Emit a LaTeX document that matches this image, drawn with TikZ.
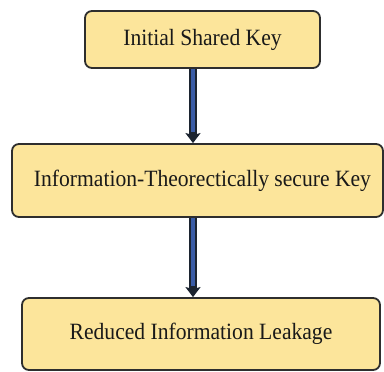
\documentclass[tikz,border=0pt]{standalone}
\usepackage{fontspec}
\setmainfont{Liberation Serif}
\usetikzlibrary{arrows.meta}
\definecolor{boxfill}{HTML}{FCE59B}
\definecolor{boxline}{HTML}{2E2E2E}
\definecolor{shaftblue}{HTML}{3A5CA6}
\definecolor{shaftline}{HTML}{1C2430}
\newcommand{\keytext}[1]{\raisebox{-2pt}{\scalebox{1}[1.08]{#1}}}
\tikzset{
  keybox/.style={draw=boxline, fill=boxfill, line width=1.8pt, rounded corners=7pt,
    inner sep=0pt, font=\fontsize{21.6}{24}\selectfont, text=black!90},
  flowout/.style={line width=7.5pt, color=shaftline, -{Stealth[length=10pt,width=15pt,inset=2pt]}},
  flowin/.style={line width=4pt, color=shaftblue, shorten >=11pt, shorten <=0.5pt},
}
\begin{document}
\begin{tikzpicture}[x=1pt,y=-1pt]
  \useasboundingbox (0,0) rectangle (384,372);
  \node[keybox, minimum width=235pt, minimum height=57pt] (init) at (202.5,39.5) {\keytext{Initial Shared Key}};
  \node[keybox, minimum width=371pt, minimum height=73pt] (itkey) at (197.5,180.5) {\hspace*{10pt}\keytext{Information-Theorectically secure Key}};
  \node[keybox, minimum width=358pt, minimum height=72pt] (leak) at (201,334) {\keytext{Reduced Information Leakage}};
  \coordinate (ax) at (193,0);
  \draw[flowout] (init.south -| ax) -- (itkey.north -| ax);
  \draw[flowin] (init.south -| ax) -- (itkey.north -| ax);
  \draw[flowout] (itkey.south -| ax) -- (leak.north -| ax);
  \draw[flowin] (itkey.south -| ax) -- (leak.north -| ax);
\end{tikzpicture}
\end{document}
